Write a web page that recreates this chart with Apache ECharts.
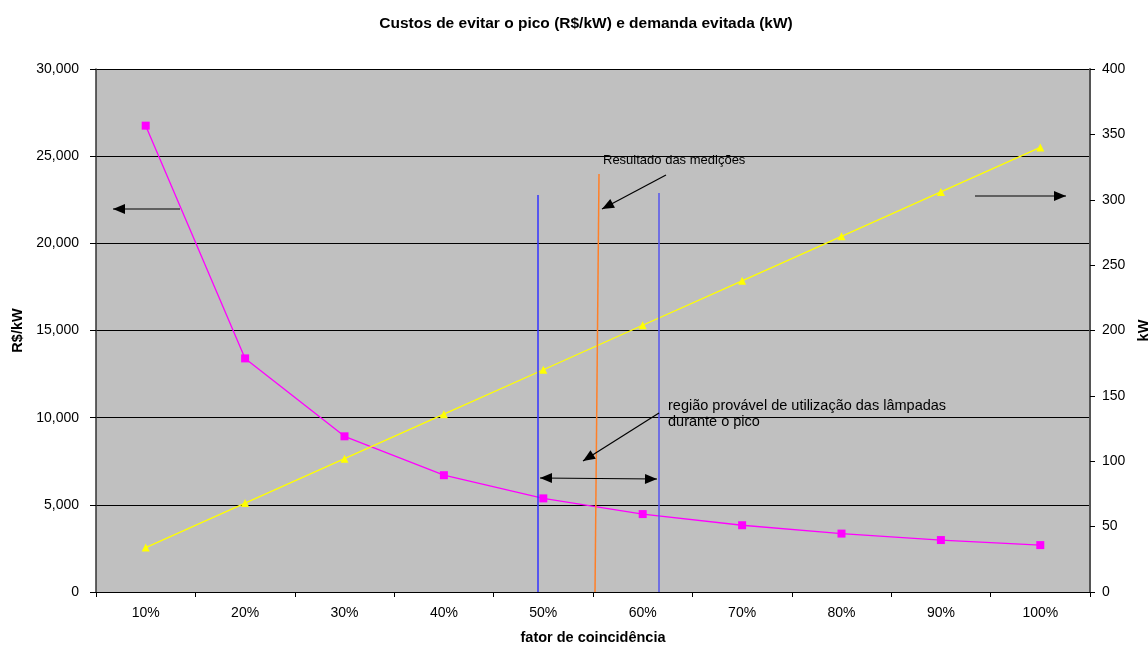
<!DOCTYPE html>
<html>
<head>
<meta charset="utf-8">
<script src="https://cdn.jsdelivr.net/npm/echarts@6/dist/echarts.min.js"></script>
<style>html,body{margin:0;padding:0;background:#fff;}#c{width:1148px;height:645px;}</style>
</head>
<body>
<div id="c"></div>
<script>
const categories = ['10%','20%','30%','40%','50%','60%','70%','80%','90%','100%'];
const custoRkW = [26750, 13400, 8930, 6700, 5370, 4470, 3830, 3350, 2980, 2690];
const demandaKW = [34, 68, 102, 136, 170, 204, 238, 272, 306, 340];
const leftTicks = [0, 30000, 5000];
const rightTicks = [0, 400, 50];

const FONT = '"Liberation Sans", Arial, sans-serif';
const chart = echarts.init(document.getElementById('c'));

function arrow(x1, y1, x2, y2, both, len, wid) {
  len = len || 12; wid = wid || 5;
  const els = [{type:'line', shape:{x1:x1,y1:y1,x2:x2,y2:y2}, style:{stroke:'#000', lineWidth:1.2}, z:10}];
  function head(ax, ay, bx, by) {
    const dx = bx-ax, dy = by-ay, L = Math.sqrt(dx*dx+dy*dy);
    const ux = dx/L, uy = dy/L;
    const bxp = bx - ux*len, byp = by - uy*len;
    return {type:'polygon', shape:{points:[[bx,by],[bxp - uy*wid, byp + ux*wid],[bxp + uy*wid, byp - ux*wid]]}, style:{fill:'#000'}, z:11};
  }
  els.push(head(x1,y1,x2,y2));
  if (both) els.push(head(x2,y2,x1,y1));
  return els;
}

const graphics = [].concat(
  [{type:'line', shape:{x1:538,y1:195,x2:538,y2:592}, style:{stroke:'#3333ff', lineWidth:1.5}, z:9},
   {type:'line', shape:{x1:659,y1:193,x2:659,y2:592}, style:{stroke:'#5555ee', lineWidth:1.5}, z:9},
   {type:'line', shape:{x1:599,y1:174,x2:595,y2:592}, style:{stroke:'#ff7f27', lineWidth:1.5}, z:9},
   {type:'text', left:603, top:154, style:{text:'Resultado das medições', font:'13px '+FONT, fill:'#000'}, z:12},
   {type:'text', left:668, top:398, style:{text:'região provável de utilização das lâmpadas\ndurante o pico', font:'14.5px '+FONT, fill:'#000', lineHeight:16}, z:12}],
  arrow(180,209,113,209,false),
  arrow(975,196,1066,196,false),
  arrow(666,175,602,209,false),
  arrow(659,413,583,461,false),
  arrow(540,478,657,479,true)
);

chart.setOption({
  animation:false,
  textStyle:{fontFamily:FONT},
  title:{text:'Custos de evitar o pico (R$/kW) e demanda evitada (kW)', left:581, textAlign:'center', top:11,
    textStyle:{fontSize:15.5, fontWeight:'bold', color:'#000', fontFamily:FONT}},
  grid:{left:96, right:58, top:69, bottom:53, show:true, backgroundColor:'#c0c0c0', borderWidth:0,
    containLabel:false, outerBoundsMode:'none'},
  xAxis:{type:'category', data:categories, boundaryGap:true,
    name:'fator de coincidência', nameLocation:'middle', nameGap:38,
    nameTextStyle:{fontSize:14.5, fontWeight:'bold', color:'#000'},
    axisLine:{lineStyle:{color:'#000', width:1}},
    axisTick:{show:true, length:5, lineStyle:{color:'#000'}},
    axisLabel:{fontSize:14, color:'#000', margin:14}},
  yAxis:[
    {type:'value', min:leftTicks[0], max:leftTicks[1], interval:leftTicks[2], position:'left',
     name:'R$/kW', nameLocation:'middle', nameGap:68, nameRotate:90,
     nameTextStyle:{fontSize:14.5, fontWeight:'bold', color:'#000'},
     axisLine:{show:true, lineStyle:{color:'#333', width:1.5}},
     axisTick:{show:true, length:6, lineStyle:{color:'#000'}},
     axisLabel:{fontSize:14, color:'#000', margin:17, formatter:v=>v.toLocaleString('en-US')},
     splitLine:{show:true, lineStyle:{color:'#000', width:1}}},
    {type:'value', min:rightTicks[0], max:rightTicks[1], interval:rightTicks[2], position:'right',
     name:'kW', nameLocation:'middle', nameGap:40, nameRotate:90,
     nameTextStyle:{fontSize:14.5, fontWeight:'bold', color:'#000'},
     axisLine:{show:true, lineStyle:{color:'#555', width:2}},
     axisTick:{show:true, length:5, lineStyle:{color:'#000'}},
     axisLabel:{fontSize:14, color:'#000', margin:12},
     splitLine:{show:false}}
  ],
  series:[
    {type:'line', name:'R$/kW', yAxisIndex:0, data:custoRkW, symbol:'rect', symbolSize:8,
     itemStyle:{color:'#ff00ff'}, lineStyle:{color:'#ff00ff', width:1.3}, z:5},
    {type:'line', name:'kW', yAxisIndex:1, data:demandaKW, symbol:'triangle', symbolSize:8,
     itemStyle:{color:'#ffff00'}, lineStyle:{color:'#ffff00', width:1.3}, z:5}
  ],
  graphic:graphics
});
</script>
</body>
</html>
